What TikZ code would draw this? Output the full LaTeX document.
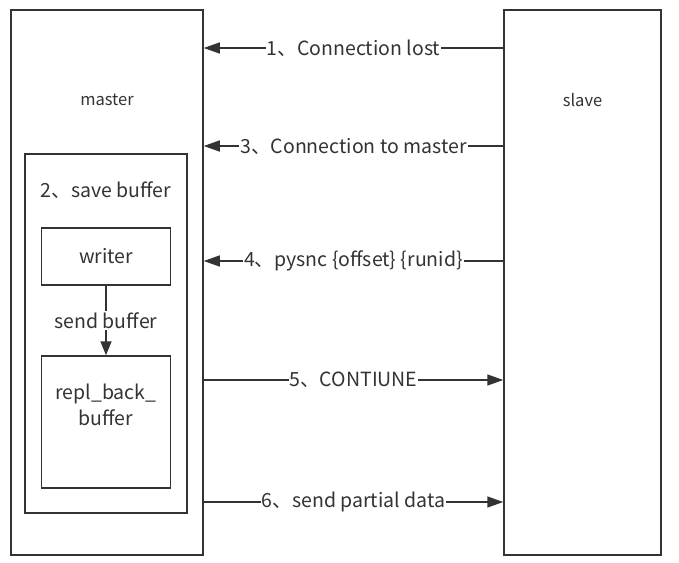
\documentclass[tikz,border=0pt]{standalone}
\usepackage{fontspec}
\setmainfont{Noto Sans CJK SC}
\usetikzlibrary{arrows.meta,positioning}
\definecolor{ink}{HTML}{333333}
\tikzset{
  box/.style={draw=ink,rectangle,inner sep=0pt},
  msg/.style={draw=ink,-{Triangle[length=16pt,width=11pt]}},
  lbl/.style={fill=white,inner sep=1pt,midway},
  side/.style={font=\fontsize{16.5}{20}\selectfont}
}
\begin{document}
\begin{tikzpicture}[x=1pt,y=-1pt,line width=1.5pt,text=ink,font=\fontsize{19.5}{26}\selectfont]
\useasboundingbox (0,0) rectangle (679,562);
%boxes
 \node[box,minimum width=192pt,minimum height=545pt] (master) at (107,282.5) {}; %master
 \node[box,minimum width=157pt,minimum height=545pt] (slave) at (582.5,282.5) {}; %slave
 \node[side] (mastername) at (107,100) {master};
 \node[side] (slavename) at (582.5,100) {slave};
	%save buffer
	\node[box,minimum width=162pt,minimum height=359pt] (savebuf) at (106,333.5) {};
	\node (savename) at (106,190) {2、save buffer};
	\node[box,minimum width=129pt,minimum height=57pt] (writer) at (106,256.5) {writer};
	\node[box,minimum width=129pt,minimum height=132pt] (replbuf) at (106,422) {};
	\node[align=center] (replname) at (106,405) {repl\_back\_\\buffer};
	\draw[msg,line width=1.8pt,-{Triangle[length=14pt,width=11pt]}] (writer) -- node[lbl] (sendname) {send buffer} (replbuf); %send buffer
%message points on master
 \coordinate (m1) at (master.east |- 0,48);
 \coordinate (m3) at (master.east |- 0,146);
 \coordinate (m4) at (master.east |- 0,261);
 \coordinate (m5) at (master.east |- 0,380);
 \coordinate (m6) at (master.east |- 0,502);
%messages
 \draw[msg] (m1 -| slave.west) -- node[lbl] (lost) {1、Connection lost} (m1);
 \draw[msg] (m3 -| slave.west) -- node[lbl] (reconn) {3、Connection to master} (m3);
 \draw[msg] (m4 -| slave.west) -- node[lbl] (psync) {4、pysnc \{offset\} \{runid\}} (m4);
 \draw[msg] (m5) -- node[lbl] (cont) {5、CONTIUNE} (m5 -| slave.west);
 \draw[msg] (m6) -- node[lbl] (partial) {6、send partial data} (m6 -| slave.west);
\end{tikzpicture}
\end{document}
